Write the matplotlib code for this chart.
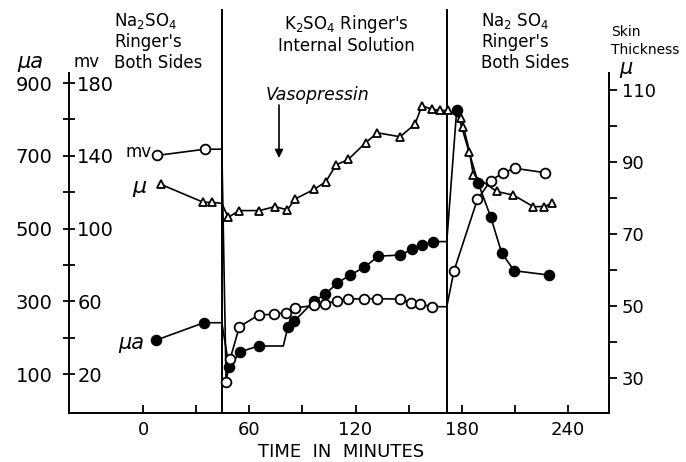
import matplotlib
matplotlib.use("Agg")
import matplotlib.pyplot as plt
from matplotlib.ticker import FixedLocator
import matplotlib.transforms as mtransforms

# ---------------- data ----------------
# filled circles: short-circuit current (micro-amps)
ua_time = [7.3, 34.4, 48.6, 54.9, 65.2, 81.8, 85.4, 96.6, 102.8, 109.4, 116.9,
           124.8, 132.9, 145.1, 152.1, 157.4, 163.9, 177.1, 189.3, 196.3,
           202.5, 209.5, 229.3]
ua_value = [193, 241, 118, 161, 177, 230, 245, 301, 319, 349, 372,
            393, 424, 427, 443, 454, 464, 826, 624, 532,
            433, 384, 372]
ua_link_time = [44.5, 79.2, 171.5]
ua_link_value = [241, 177, 464]

# open circles: potential (mv)
mv_time = [8.1, 35.0, 46.9, 49.1, 54.4, 65.2, 74.2, 80.8, 85.8, 96.6, 102.8,
           109.4, 115.9, 124.8, 132.0, 145.1, 151.2, 156.4, 163.0, 175.6,
           188.8, 196.3, 203.4, 210.0, 226.9]
mv_value = [140.2, 143.6, 15.7, 28.0, 46.0, 52.4, 52.9, 53.7, 56.3, 57.7, 58.5,
            60.3, 61.2, 61.4, 61.4, 61.2, 59.2, 58.5, 57.0, 76.8,
            116.0, 126.3, 130.7, 133.1, 130.7]
mv_link_time = [44.5, 171.5]
mv_link_value = [143.6, 57.0]

# triangles: skin thickness (micron)
th_time = [10.0, 34.0, 38.8, 48.1, 54.2, 65.7, 74.5, 81.5, 85.8, 96.6, 103.2,
           109.0, 115.9, 125.8, 132.3, 145.1, 153.6, 157.4, 163.4, 167.7,
           172.3, 179.3, 180.9, 184.3, 186.5, 199.7, 209.1, 220.4, 226.4, 230.8]
th_value = [83.8, 78.8, 78.8, 74.6, 76.5, 76.5, 77.6, 76.7, 79.7, 82.4, 84.5,
            89.2, 90.7, 95.4, 98.1, 97.0, 100.5, 105.6, 104.6, 104.3,
            104.3, 102.1, 99.8, 92.9, 86.4, 81.8, 80.8, 77.6, 77.6, 78.5]
th_link_time = [44.5]
th_link_value = [78.5]

solution_changes = [44.5, 171.5]

x_major = [0, 60, 120, 180, 240]
x_minor = [30, 90, 150, 210]
ua_major = [100, 300, 500, 700, 900]
ua_minor = [200, 400, 600, 800]
mv_major = [20, 60, 100, 140, 180]
th_major = [30, 50, 70, 90, 110]
th_minor = [40, 60, 80, 100]

# ---------------- figure ----------------
W, H = 686, 462
fig = plt.figure(figsize=(W / 100, H / 100), dpi=100)
def fx(x):
    return x / W
def fy(y):
    return 1 - y / H

ax = fig.add_axes([fx(69), fy(413), (609 - 69) / W, (413 - 73) / H])
ax.set_xlim(-41.8, 263.1)
ax.set_ylim(-7.2, 927.5)
ax_mv = ax.twinx()
ax_mv.set_ylim(-7.2 / 5, 927.5 / 5)
ax_th = ax.twinx()
ax_th.set_ylim(20.3, 114.7)

lw_sp = 1.4
for a in (ax, ax_mv, ax_th):
    for s in a.spines.values():
        s.set_visible(False)
        s.set_linewidth(lw_sp)
ax.spines['left'].set_visible(True)
ax.spines['bottom'].set_visible(True)
ax_th.spines['right'].set_visible(True)
ax_mv.spines['right'].set_position(('axes', 0))

# x ticks
ax.xaxis.set_major_locator(FixedLocator(x_major))
ax.xaxis.set_minor_locator(FixedLocator(x_minor))
ax.tick_params(axis='x', which='both', direction='in', length=6, width=1.3,
               labelsize=13, pad=6)
# left ua ticks
ax.yaxis.set_major_locator(FixedLocator(ua_major))
ax.yaxis.set_minor_locator(FixedLocator(ua_minor))
ax.tick_params(axis='y', which='both', direction='inout', length=8, width=1.3,
               labelsize=14, pad=8)
# mv labels right of left spine
ax_mv.yaxis.set_major_locator(FixedLocator(mv_major))
ax_mv.tick_params(axis='y', which='major', direction='inout', length=0,
                  labelsize=14, pad=6, left=False, labelleft=False,
                  right=True, labelright=True)
# thickness axis
ax_th.yaxis.set_major_locator(FixedLocator(th_major))
ax_th.yaxis.set_minor_locator(FixedLocator(th_minor))
ax_th.tick_params(axis='y', which='both', direction='out', length=6, width=1.3,
                  labelsize=13, pad=3)

def draw(a, t, v, lt, lv, marker, ms, mfc):
    pts = sorted([(ti, vi, True) for ti, vi in zip(t, v)] +
                 [(ti, vi, False) for ti, vi in zip(lt, lv)])
    xs = [p[0] for p in pts]
    ys = [p[1] for p in pts]
    mk = [i for i, p in enumerate(pts) if p[2]]
    a.plot(xs, ys, color='black', lw=1.2, marker=marker, ms=ms, mfc=mfc,
           mec='black', mew=1.3, markevery=mk, clip_on=False, zorder=3)

draw(ax_th, th_time, th_value, th_link_time, th_link_value, '^', 6, 'white')
draw(ax_mv, mv_time, mv_value, mv_link_time, mv_link_value, 'o', 7, 'white')
draw(ax, ua_time, ua_value, ua_link_time, ua_link_value, 'o', 7, 'black')

# solution-change lines
trans = mtransforms.blended_transform_factory(ax.transData, ax.transAxes)
for t in solution_changes:
    ax.plot([t, t], [0, (413 - 10) / 340], transform=trans, color='black',
            lw=1.4, clip_on=False, zorder=4)

# vasopressin arrow
ax.annotate('', xy=(fx(279), fy(158)), xycoords='figure fraction',
            xytext=(fx(279), fy(105)), textcoords='figure fraction',
            arrowprops=dict(arrowstyle='-|>', color='black', lw=1.2,
                            mutation_scale=12, shrinkA=0, shrinkB=0))
fig.text(fx(318), fy(95), 'Vasopressin', ha='center', va='center',
         fontsize=12.5, style='italic')

# header texts
def block(x, y0, lines, ha='left', dy=21, size=12):
    for i, s in enumerate(lines):
        fig.text(fx(x), fy(y0 + i * dy), s, ha=ha, va='center', fontsize=size)

block(114, 21, [r'Na$_2$SO$_4$', "Ringer's", 'Both Sides'])
block(346, 24, [r"K$_2$SO$_4$ Ringer's", 'Internal Solution'], ha='center', dy=22)
block(481, 21, [r'Na$_2$ SO$_4$', "Ringer's", 'Both Sides'])
block(611, 32, ['Skin', 'Thickness'], dy=18, size=10)
fig.text(fx(626), fy(68), 'μ', fontsize=15, style='italic', ha='center', va='center')

# axis unit labels
fig.text(fx(30), fy(62), 'μa', fontsize=15, style='italic', ha='center', va='center')
fig.text(fx(87), fy(62), 'mv', fontsize=12, ha='center', va='center')

# series labels
fig.text(fx(139), fy(152), 'mv', fontsize=12, ha='center', va='center')
fig.text(fx(139), fy(187), 'μ', fontsize=16, style='italic', ha='center', va='center')
fig.text(fx(131), fy(343), 'μa', fontsize=15, style='italic', ha='center', va='center')

fig.text(fx(341), fy(452), 'TIME  IN  MINUTES', fontsize=13, ha='center', va='center')

fig.savefig('out.png', dpi=100)
